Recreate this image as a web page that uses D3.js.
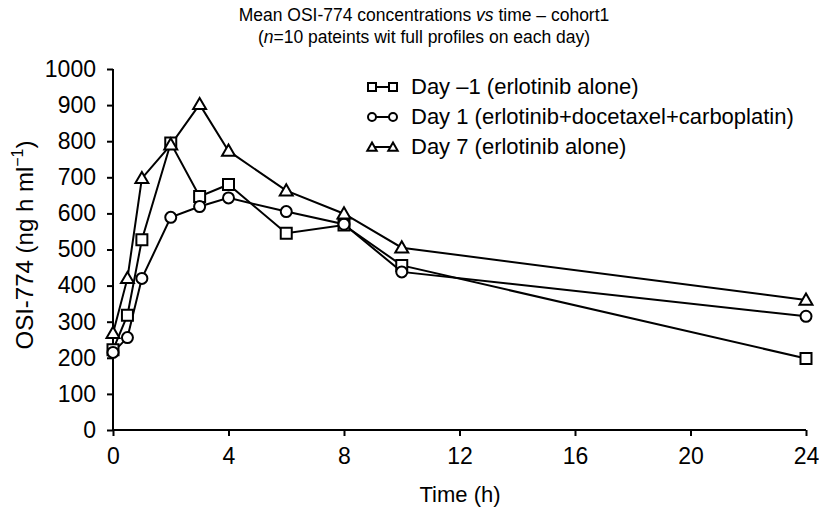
<!DOCTYPE html>
<html><head><meta charset="utf-8">
<script src="https://cdn.jsdelivr.net/npm/d3@7"></script>
<style>body{margin:0;background:#fff}svg{display:block}text{font-family:"Liberation Sans",Arial,sans-serif;fill:#000}</style>
</head><body><svg id="c" width="819" height="508"></svg>
<script>
const times = [0, 0.5, 1, 2, 3, 4, 6, 8, 10, 24];
const dayMinus1 = [222, 318, 527, 795, 647, 680, 545, 568, 456, 198];
const day1 = [215, 256, 420, 589, 619, 643, 605, 570, 438, 315];
const day7 = [268, 420, 697, 790, 902, 773, 663, 599, 505, 360];
const seriesNames = ["Day \u20131 (erlotinib alone)", "Day 1 (erlotinib+docetaxel+carboplatin)", "Day 7 (erlotinib alone)"];
const seriesSymbols = ["square", "circle", "triangle"];
const xTicks = [0, 4, 8, 12, 16, 20, 24];
const yTicks = [0, 100, 200, 300, 400, 500, 600, 700, 800, 900, 1000];

const svg = d3.select("#c");
const x = d3.scaleLinear().domain([0, 24]).range([113, 806]);
const y = d3.scaleLinear().domain([0, 1000]).range([430, 69]);

// axes
const xAxis = svg.append("g").attr("transform", "translate(0,430)")
  .call(d3.axisBottom(x).tickValues(xTicks).tickFormat(d3.format("d")).tickSize(6).tickPadding(12).tickSizeOuter(0));
const yAxis = svg.append("g").attr("transform", "translate(113,0)")
  .call(d3.axisLeft(y).tickValues(yTicks).tickFormat(d3.format("d")).tickSize(6).tickPadding(11).tickSizeOuter(0));
[xAxis, yAxis].forEach(a => {
  a.attr("font-size", null).attr("font-family", null);
  a.selectAll("path,line").attr("stroke", "#000").attr("stroke-width", 2);
  a.selectAll("text").style("font-size", "23px").attr("fill", "#000");
});
xAxis.select(".domain").attr("d", `M${x(0)},0H${x(24)}`);
yAxis.select(".domain").attr("d", `M0,${y(0)}V${y(1000)}`);

// titles
svg.append("text").attr("x", 424).attr("y", 21).attr("text-anchor", "middle").style("font-size", "17.5px")
  .html('Mean OSI-774 concentrations <tspan font-style="italic">vs</tspan> time \u2013 cohort1');
svg.append("text").attr("x", 424).attr("y", 43).attr("text-anchor", "middle").style("font-size", "17.5px")
  .html('(<tspan font-style="italic">n</tspan>=10 pateints wit full profiles on each day)');
svg.append("text").attr("x", 460).attr("y", 502).attr("text-anchor", "middle").style("font-size", "22px").text("Time (h)");
svg.append("text").attr("transform", "translate(33,245) rotate(-90)").attr("text-anchor", "middle").style("font-size", "24px")
  .html('OSI-774 (ng h ml<tspan dy="-10" style="font-size:16px">\u22121</tspan><tspan dy="10">)</tspan>');

function sym(t, s) {
  if (t === "square") return d3.symbol(d3.symbolSquare, s * s)();
  if (t === "circle") return d3.symbol(d3.symbolCircle, Math.PI * (s / 2) * (s / 2))();
  return d3.symbol(d3.symbolTriangle, s * s * 0.6)();
}

const data = [dayMinus1, day1, day7];
const line = d3.line().x((d, i) => x(times[i])).y(d => y(d));
data.forEach((vals, k) => {
  svg.append("path").attr("d", line(vals)).attr("fill", "none").attr("stroke", "#000").attr("stroke-width", 2);
});
data.forEach((vals, k) => {
  svg.append("g").selectAll("path").data(vals).join("path")
    .attr("transform", (d, i) => `translate(${x(times[i])},${y(d) + (seriesSymbols[k] === "triangle" ? 1 : 0)})`)
    .attr("d", sym(seriesSymbols[k], 11))
    .attr("fill", "#fff").attr("stroke", "#000").attr("stroke-width", 2);
});

// legend
const lg = svg.append("g");
seriesNames.forEach((n, k) => {
  const yy = 87 + k * 30;
  lg.append("line").attr("x1", 372).attr("x2", 393).attr("y1", yy).attr("y2", yy).attr("stroke", "#000").attr("stroke-width", 2);
  [372, 393].forEach(xx => lg.append("path").attr("transform", `translate(${xx},${yy + (seriesSymbols[k] === "triangle" ? 1 : 0)})`)
    .attr("d", sym(seriesSymbols[k], 8)).attr("fill", "#fff").attr("stroke", "#000").attr("stroke-width", 2));
  lg.append("text").attr("x", 411).attr("y", yy + 7).style("font-size", "22px").text(n);
});
</script></body></html>
